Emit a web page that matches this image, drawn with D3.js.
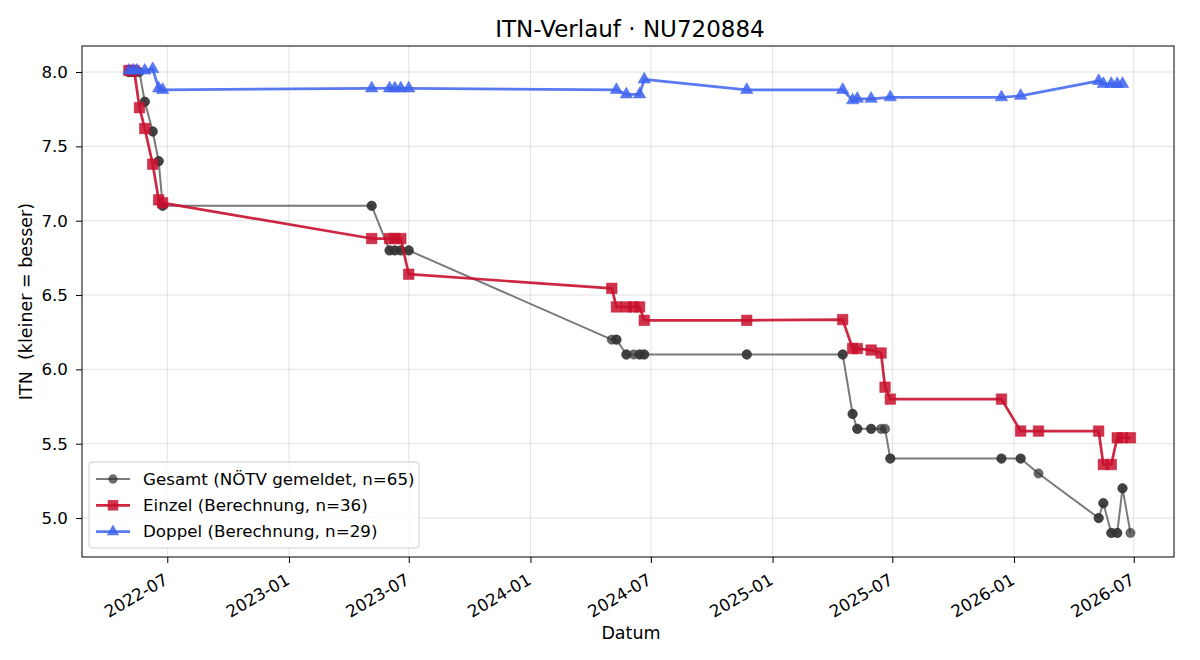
<!DOCTYPE html>
<html><head><meta charset="utf-8">
<script src="https://cdn.jsdelivr.net/npm/d3@7"></script>
<style>
body{margin:0;background:#fff}
text{font-family:"DejaVu Sans",sans-serif}
</style>
</head><body>
<svg id="chart" width="1200" height="660"></svg>
<script>
// ---------- data ----------
const gesamtDates = [
 "2022-05-04","2022-05-04","2022-05-08","2022-05-11","2022-05-12","2022-05-16","2022-05-20",
 "2022-05-28","2022-05-28","2022-06-09","2022-06-09","2022-06-18","2022-06-18","2022-06-24","2022-06-24",
 "2023-05-06","2023-05-06","2023-06-02","2023-06-02","2023-06-10","2023-06-10","2023-06-19","2023-06-19","2023-07-01","2023-07-01",
 "2024-05-03","2024-05-10","2024-05-10","2024-05-25","2024-05-25","2024-06-05","2024-06-14","2024-06-14","2024-06-21","2024-06-21","2024-11-23","2024-11-23",
 "2025-04-17","2025-04-17","2025-05-02","2025-05-02","2025-05-09","2025-05-09","2025-05-30","2025-05-30","2025-06-14","2025-06-20","2025-06-28","2025-06-28",
 "2025-12-13","2025-12-13","2026-01-11","2026-01-11","2026-02-07","2026-05-09","2026-05-09","2026-05-16","2026-05-16","2026-05-28","2026-05-28",
 "2026-06-06","2026-06-06","2026-06-14","2026-06-14","2026-06-26"
];
const gesamtValues = [
 8.0,8.0,8.0,8.0,8.0,8.0,8.0,
 7.8,7.8,7.6,7.6,7.4,7.4,7.1,7.1,
 7.1,7.1,6.8,6.8,6.8,6.8,6.8,6.8,6.8,6.8,
 6.2,6.2,6.2,6.1,6.1,6.1,6.1,6.1,6.1,6.1,6.1,6.1,
 6.1,6.1,5.7,5.7,5.6,5.6,5.6,5.6,5.6,5.6,5.4,5.4,
 5.4,5.4,5.4,5.4,5.3,5.0,5.0,5.1,5.1,4.9,4.9,
 4.9,4.9,5.2,5.2,4.9
];
const einzelDates = [
 "2022-05-04","2022-05-08","2022-05-12","2022-05-20","2022-05-28","2022-06-09","2022-06-18","2022-06-24",
 "2023-05-06","2023-06-02","2023-06-10","2023-06-19","2023-07-01",
 "2024-05-03","2024-05-10","2024-05-25","2024-06-05","2024-06-14","2024-06-21","2024-11-23",
 "2025-04-17","2025-05-02","2025-05-09","2025-05-30","2025-06-14","2025-06-20","2025-06-28",
 "2025-12-13","2026-01-11","2026-02-07","2026-05-09","2026-05-16","2026-05-28","2026-06-06","2026-06-14","2026-06-26"
];
const einzelValues = [
 8.01,8.01,8.01,7.76,7.62,7.38,7.14,7.12,
 6.88,6.88,6.88,6.88,6.64,
 6.545,6.42,6.42,6.42,6.42,6.33,6.33,
 6.335,6.14,6.14,6.13,6.11,5.88,5.80,
 5.80,5.585,5.585,5.585,5.36,5.36,5.54,5.54,5.54
];
const doppelDates = [
 "2022-05-04","2022-05-11","2022-05-16","2022-05-28","2022-06-09","2022-06-18","2022-06-24",
 "2023-05-06","2023-06-02","2023-06-10","2023-06-19","2023-07-01",
 "2024-05-10","2024-05-25","2024-06-14","2024-06-21","2024-11-23",
 "2025-04-17","2025-05-02","2025-05-09","2025-05-30","2025-06-28",
 "2025-12-13","2026-01-11","2026-05-09","2026-05-16","2026-05-28","2026-06-06","2026-06-14"
];
const doppelValues = [
 8.01,8.01,8.01,8.01,8.02,7.89,7.88,
 7.89,7.89,7.89,7.89,7.89,
 7.88,7.85,7.85,7.95,7.88,
 7.88,7.81,7.82,7.82,7.83,
 7.83,7.84,7.94,7.92,7.92,7.92,7.92
];
const xTickLabels = ["2022-07","2023-01","2023-07","2024-01","2024-07","2025-01","2025-07","2026-01","2026-07"];
const yTickValues = [5.0,5.5,6.0,6.5,7.0,7.5,8.0];
const xDomain = ["2022-02-22T02:00:00","2026-08-30T20:00:00"];
const yDomain = [4.738, 8.175];
const seriesLabels = ["Gesamt (NÖTV gemeldet, n=65)","Einzel (Berechnung, n=36)","Doppel (Berechnung, n=29)"];

// ---------- layout ----------
const M = {left:82, top:46, right:1174, bottom:557};
const svg = d3.select("#chart");
const parse = d3.timeParse("%Y-%m-%d");
const x = d3.scaleTime().domain(xDomain.map(d3.isoParse)).range([M.left, M.right]);
const y = d3.scaleLinear().domain(yDomain).range([M.bottom, M.top]);
const xTicks = xTickLabels.map(s => parse(s + "-01"));
const FS = 16.7;

// grid
const grid = svg.append("g");
grid.selectAll(".gx").data(xTicks).join("line")
  .attr("x1", d => x(d)).attr("x2", d => x(d))
  .attr("y1", M.top).attr("y2", M.bottom)
  .attr("stroke", "#b0b0b0").attr("stroke-opacity", 0.35).attr("stroke-width", 1);
grid.selectAll(".gy").data(yTickValues).join("line")
  .attr("y1", d => y(d)).attr("y2", d => y(d))
  .attr("x1", M.left).attr("x2", M.right)
  .attr("stroke", "#b0b0b0").attr("stroke-opacity", 0.35).attr("stroke-width", 1);

// axes
const xAxis = d3.axisBottom(x).tickValues(xTicks).tickFormat(d3.timeFormat("%Y-%m")).tickSize(6).tickPadding(5);
const gx = svg.append("g").attr("transform", `translate(0,${M.bottom})`).call(xAxis);
gx.select(".domain").remove();
gx.selectAll("line").attr("stroke", "#000").attr("stroke-width", 1);
gx.selectAll("text")
  .attr("font-size", FS + "px").attr("fill", "#000")
  .attr("text-anchor", "end")
  .attr("dy", null).attr("y", null)
  .attr("dominant-baseline", "hanging")
  .attr("transform", "translate(-5,15) rotate(-30)");

const yAxis = d3.axisLeft(y).tickValues(yTickValues).tickFormat(d3.format(".1f")).tickSize(6).tickPadding(8);
const gy = svg.append("g").attr("transform", `translate(${M.left},0)`).call(yAxis);
gy.select(".domain").remove();
gy.selectAll("line").attr("stroke", "#000").attr("stroke-width", 1);
gy.selectAll("text").attr("font-size", FS + "px").attr("fill", "#000");

// series
function drawSeries(dates, vals, cfg) {
  const pts = dates.map((d, i) => ({d: parse(d), v: vals[i]}));
  const g = svg.append("g");
  g.append("path").datum(pts)
    .attr("d", d3.line().x(p => x(p.d)).y(p => y(p.v)))
    .attr("fill", "none").attr("stroke", cfg.color).attr("stroke-opacity", cfg.lineOpacity)
    .attr("stroke-width", cfg.lw).attr("stroke-linejoin", "round");
  g.selectAll("path.m").data(pts).join("path").attr("class", "m")
    .attr("transform", p => `translate(${x(p.d)},${y(p.v)})`)
    .attr("d", d3.symbol().type(cfg.symbol).size(cfg.size))
    .attr("fill", cfg.color).attr("fill-opacity", cfg.markerOpacity)
    .attr("stroke", cfg.color).attr("stroke-opacity", cfg.markerOpacity * 0.6).attr("stroke-width", 1);
}
const styles = [
  {color:"#333333", lineOpacity:0.65, markerOpacity:0.72, lw:2, symbol:d3.symbolCircle, size:68},
  {color:"#c8102e", lineOpacity:0.9, markerOpacity:0.85, lw:2.7, symbol:d3.symbolSquare, size:110},
  {color:"#3d63f0", lineOpacity:0.85, markerOpacity:0.85, lw:2.7, symbol:d3.symbolTriangle, size:66}
];
drawSeries(gesamtDates, gesamtValues, styles[0]);
drawSeries(einzelDates, einzelValues, styles[1]);
drawSeries(doppelDates, doppelValues, styles[2]);

// frame
svg.append("rect").attr("x", M.left).attr("y", M.top)
  .attr("width", M.right - M.left).attr("height", M.bottom - M.top)
  .attr("fill", "none").attr("stroke", "#000").attr("stroke-width", 1);

// labels
svg.append("text").attr("x", (M.left + M.right) / 2 + 2).attr("y", 37)
  .attr("text-anchor", "middle").attr("font-size", "23px").attr("fill", "#000")
  .text("ITN-Verlauf · NU720884");
svg.append("text").attr("x", (M.left + M.right) / 2 + 3).attr("y", 639)
  .attr("text-anchor", "middle").attr("font-size", "17.5px").attr("fill", "#000")
  .text("Datum");
svg.append("text").attr("transform", `translate(32,${(M.top + M.bottom) / 2}) rotate(-90)`)
  .attr("text-anchor", "middle").attr("font-size", "17.5px").attr("fill", "#000")
  .style("white-space", "pre")
  .text("ITN  (kleiner = besser)");

// legend
const lg = svg.append("g");
lg.append("rect").attr("x", 89).attr("y", 462).attr("width", 330).attr("height", 86)
  .attr("rx", 3).attr("fill", "#fff").attr("fill-opacity", 0.8)
  .attr("stroke", "#cccccc").attr("stroke-width", 1);
seriesLabels.forEach((lab, i) => {
  const cy = 479 + i * 26.3;
  const st = styles[i];
  lg.append("line").attr("x1", 96).attr("x2", 130).attr("y1", cy).attr("y2", cy)
    .attr("stroke", st.color).attr("stroke-opacity", st.lineOpacity).attr("stroke-width", st.lw);
  lg.append("path").attr("transform", `translate(113,${cy})`)
    .attr("d", d3.symbol().type(st.symbol).size(st.size))
    .attr("fill", st.color).attr("fill-opacity", st.markerOpacity);
  lg.append("text").attr("x", 143).attr("y", cy).attr("dy", "0.35em")
    .attr("font-size", FS + "px").attr("fill", "#000")
    .text(lab);
});
</script>
</body></html>
